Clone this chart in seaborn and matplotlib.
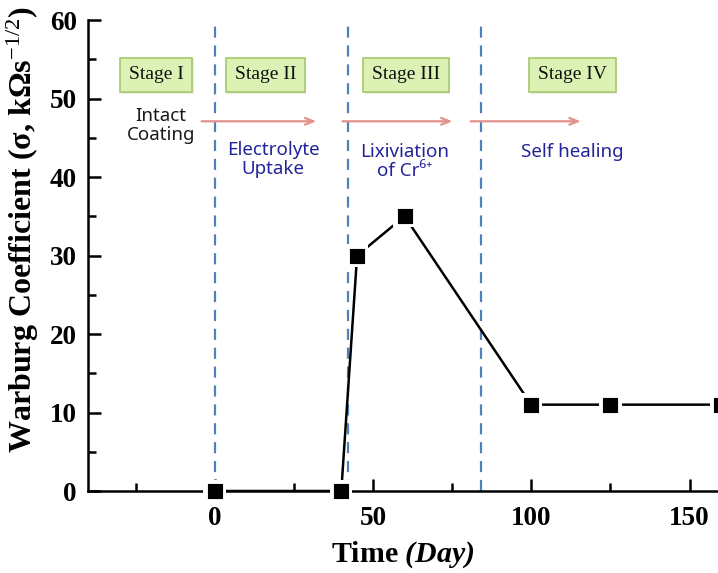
import matplotlib
matplotlib.use("Agg")
import matplotlib.pyplot as plt
import matplotlib.patheffects as pe
import seaborn as sns
import pandas as pd
from matplotlib.ticker import MultipleLocator

# Warburg coefficient over immersion time
days = [0, 40, 45, 60, 100, 125, 160]
sigma = [0, 0, 30, 35, 11, 11, 11]

# stage boundaries (days)
boundaries = [0, 42, 84]

stage_names = ["Stage I", "Stage II", "Stage III", "Stage IV"]
stage_x = [-18.5, 16, 60.5, 113]
stage_notes = ["Intact\nCoating", "Electrolyte\nUptake", "Lixiviation\nof Cr⁶⁺", "Self healing"]
note_x = [-17, 18.5, 60, 113]
note_y = [46.6, 42.2, 42.0, 43.2]
note_colors = ["#1a1a1a", "#24249a", "#24249a", "#24249a"]
arrow_spans = [(-5, 33), (39.5, 76), (80, 116.5)]

sns.set_theme(style="white")
plt.rcParams["font.family"] = ["Liberation Serif", "DejaVu Serif"]
plt.rcParams["text.color"] = "black"
plt.rcParams["axes.labelcolor"] = "black"
plt.rcParams["xtick.color"] = "black"
plt.rcParams["ytick.color"] = "black"
plt.rcParams["mathtext.fontset"] = "custom"
plt.rcParams["mathtext.rm"] = "Liberation Serif"
plt.rcParams["mathtext.bf"] = "Liberation Serif:bold"
plt.rcParams["mathtext.it"] = "Liberation Serif:italic"
plt.rcParams["mathtext.bfit"] = "Liberation Serif:italic:bold"

df = pd.DataFrame({"day": days, "sigma": sigma})

fig = plt.figure(figsize=(7.18, 5.73), dpi=100)
ax = fig.add_axes([0.1226, 0.1431, 0.8774, 0.8219])

for b in boundaries:
    ax.axvline(b, color="#4f81bd", lw=1.6, ls=(0, (5, 3.5)), zorder=1)

sns.lineplot(data=df, x="day", y="sigma", color="black", lw=1.8, ax=ax,
             zorder=2, sort=False)
sns.scatterplot(data=df, x="day", y="sigma", marker="s", s=260, color="white",
                edgecolor="none", ax=ax, zorder=3, clip_on=False)
sns.scatterplot(data=df, x="day", y="sigma", marker="s", s=105, color="black",
                edgecolor="black", ax=ax, zorder=4, clip_on=False)

ax.set_xlim(-40, 159)
ax.set_ylim(0, 60)
ax.xaxis.set_major_locator(MultipleLocator(50))
ax.xaxis.set_minor_locator(MultipleLocator(25))
ax.yaxis.set_major_locator(MultipleLocator(10))
ax.yaxis.set_minor_locator(MultipleLocator(5))
ax.tick_params(which="major", direction="in", length=9, width=1.8, color="black",
               labelsize=19.5, labelcolor="black", pad=11)
ax.tick_params(which="minor", direction="in", length=6, width=1.8, color="black")
ax.tick_params(axis="x", which="both", bottom=True, top=False)
ax.tick_params(axis="y", which="both", left=True, right=False, pad=8)
for lab in ax.get_xticklabels() + ax.get_yticklabels():
    lab.set_fontweight("bold")

for side in ["top", "right"]:
    ax.spines[side].set_visible(False)
for side in ["left", "bottom"]:
    ax.spines[side].set_linewidth(1.8)
    ax.spines[side].set_color("black")

ax.set_xlabel(r"Time $\mathbfit{(Day)}$", fontsize=21.5, fontweight="bold",
              labelpad=6)
ax.set_ylabel(r"Warburg Coefficient (σ, kΩs$^{\mathrm{-1/2}}$)", fontsize=23,
              fontweight="bold", labelpad=6)
ax.yaxis.label.set_y(0.555)

for name, x in zip(stage_names, stage_x):
    t = ax.text(x, 53, name, ha="center", va="center", fontsize=14, color="#111111",
                bbox=dict(boxstyle="square,pad=0.45", fc="#dcf1b4", ec="#a5c86c", lw=1.2),
                zorder=5)
    t.get_bbox_patch().set_path_effects(
        [pe.SimplePatchShadow(offset=(1, -1), alpha=0.12), pe.Normal()])

for txt, x, y, c in zip(stage_notes, note_x, note_y, note_colors):
    ax.text(x, y, txt, ha="center", va="center", fontsize=13.5, color=c,
            family=["Noto Sans", "DejaVu Sans"], linespacing=1.1, zorder=5)

for x0, x1 in arrow_spans:
    ax.annotate("", xy=(x1, 47.1), xytext=(x0, 47.1),
                arrowprops=dict(arrowstyle="->,head_length=0.5,head_width=0.2",
                                color="#e3918b", lw=1.6), zorder=2)

fig.savefig("out.png", dpi=100)
